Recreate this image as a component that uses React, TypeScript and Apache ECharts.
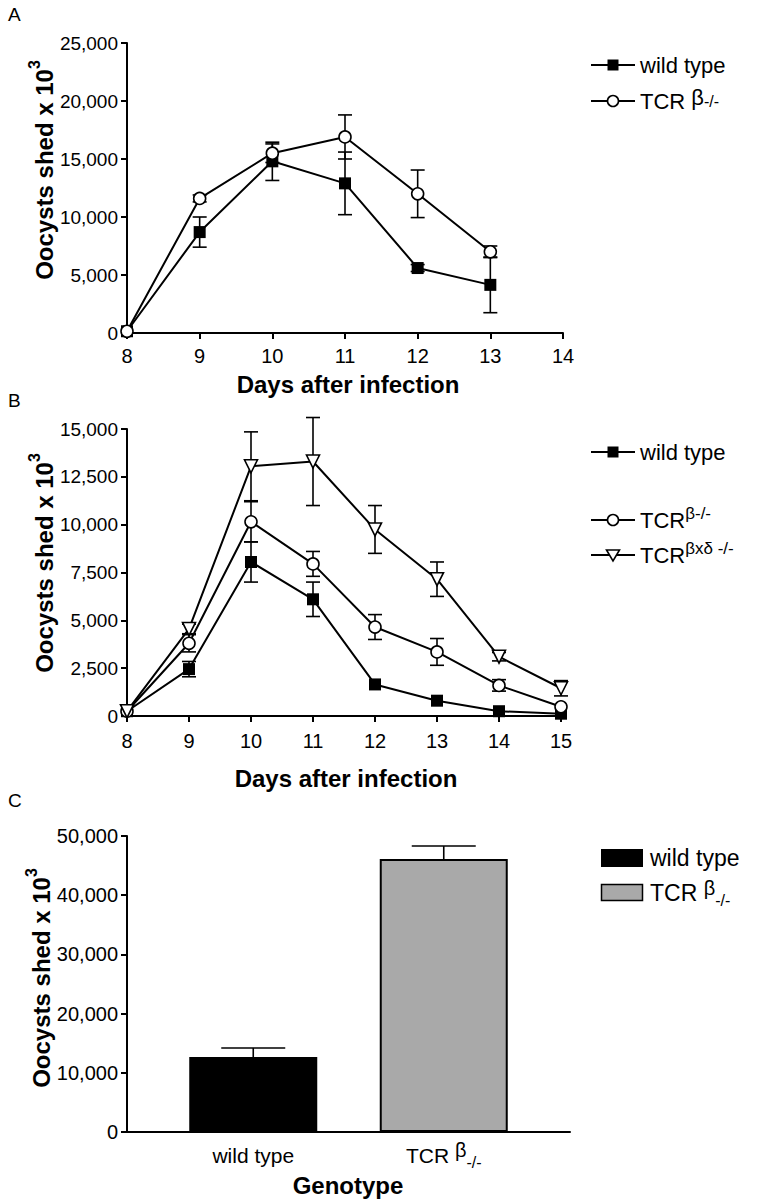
import React, { useEffect, useRef } from "react";
import * as echarts from "echarts";

// Panel A
const daysA = [8, 9, 10, 11, 12, 13];
const wildA = [150, 8700, 14800, 12900, 5600, 4150];
const wildAErr = [0, 1300, 1650, 2700, 300, 2400];
const tcrA = [150, 11600, 15500, 16900, 12000, 7000];
const tcrAErr = [0, 300, 800, 1900, 2050, 500];

// Panel B
const daysB = [8, 9, 10, 11, 12, 13, 14, 15];
const wildB = [250, 2450, 8050, 6100, 1650, 800, 250, 120];
const wildBErr = [0, 400, 1050, 900, 0, 0, 0, 0];
const tcrB = [250, 3800, 10150, 7950, 4650, 3350, 1600, 480];
const tcrBErr = [0, 450, 1050, 650, 650, 700, 300, 0];
const triB = [250, 4550, 13050, 13300, 9750, 7150, 3100, 1450];
const triBErr = [0, 250, 1800, 2300, 1250, 900, 220, 400];

// Panel C
const genotypes = ["wild type", "TCR β-/-"];
const totals = [12650, 46100];
const totalsErr = [1550, 2200];

const FONT = "'Liberation Sans', Arial, Helvetica, sans-serif";
const fmt = (v: number) => v.toLocaleString("en-US");

const pts = (xs: number[], ys: number[]) => xs.map((x, i) => [x, ys[i]]);
const errPts = (xs: number[], ys: number[], es: number[]) => xs.map((x, i) => [x, ys[i], es[i]]);

const blk = "#000";

function errRender(capHalf: number, upOnly: boolean) {
  return (params: any, api: any) => {
    const x = api.value(0);
    const y = api.value(1);
    const e = api.value(2);
    if (!e) return null;
    const top = api.coord([x, y + e]);
    const bot = upOnly ? api.coord([x, y]) : api.coord([x, y - e]);
    const st = { stroke: blk, lineWidth: 1.6 };
    const children: any[] = [
      { type: "line", shape: { x1: top[0], y1: top[1], x2: bot[0], y2: bot[1] }, style: st },
      { type: "line", shape: { x1: top[0] - capHalf, y1: top[1], x2: top[0] + capHalf, y2: top[1] }, style: st },
    ];
    if (!upOnly) {
      children.push({ type: "line", shape: { x1: bot[0] - capHalf, y1: bot[1], x2: bot[0] + capHalf, y2: bot[1] }, style: st });
    }
    return { type: "group", children };
  };
}

const axisLine = { show: true, onZero: false, lineStyle: { color: blk, width: 2 } };
const axisTick = { show: true, inside: false, length: 6, lineStyle: { color: blk, width: 2 } };

function valueX(gi: number, min: number, max: number, margin: number) {
  return {
    type: "value", gridIndex: gi, min, max, interval: 1,
    axisLine, axisTick, splitLine: { show: false },
    axisLabel: { color: blk, fontSize: 20, fontFamily: FONT, margin },
  };
}
function valueY(gi: number, max: number, interval: number, fs: number, show = true) {
  return {
    type: "value", gridIndex: gi, min: 0, max, interval,
    axisLine: { ...axisLine, show },
    axisTick: { ...axisTick, show },
    splitLine: { show: false },
    axisLabel: { show, color: blk, fontSize: fs, fontFamily: FONT, margin: 9, formatter: fmt },
  };
}

const lineSeries = (name: string, xi: number, data: number[][], kind: string) => {
  const base: any = {
    name, type: "line", xAxisIndex: xi, yAxisIndex: xi, data, z: 5,
    lineStyle: { color: blk, width: 2 },
    symbolKeepAspect: true,
  };
  if (kind === "square") {
    base.symbol = "rect"; base.symbolSize = 12; base.itemStyle = { color: blk, borderColor: blk, borderWidth: 0 };
  } else if (kind === "circle") {
    base.symbol = "circle"; base.symbolSize = 12; base.itemStyle = { color: "#fff", borderColor: blk, borderWidth: 1.6 };
  } else {
    base.symbol = "triangle"; base.symbolRotate = 180; base.symbolSize = 13; base.itemStyle = { color: "#fff", borderColor: blk, borderWidth: 1.6 };
  }
  return base;
};

const errSeries = (xi: number, data: number[][], capHalf: number, upOnly = false) => ({
  type: "custom", xAxisIndex: xi, yAxisIndex: xi, data, z: 4,
  encode: { x: 0, y: 1 },
  renderItem: errRender(capHalf, upOnly),
});

const supRich = {
  n: { fontSize: 22, fontFamily: FONT, color: blk, lineHeight: 30, verticalAlign: "middle" },
  b: { fontSize: 20, fontFamily: FONT, color: blk, lineHeight: 22, verticalAlign: "top" },
  s: { fontSize: 17, fontFamily: FONT, color: blk, lineHeight: 22, verticalAlign: "top" },
  sl: { fontSize: 16, fontFamily: FONT, color: blk, lineHeight: 24, verticalAlign: "bottom" },
  sm: { fontSize: 16, fontFamily: FONT, color: blk, lineHeight: 30, verticalAlign: "middle" },
  bm: { fontSize: 22, fontFamily: FONT, color: blk, lineHeight: 25, verticalAlign: "top" },
};

const yTitleRich = {
  m: { fontSize: 24, fontWeight: "bold", fontFamily: FONT, color: blk, lineHeight: 30, verticalAlign: "bottom" },
  p: { fontSize: 16, fontWeight: "bold", fontFamily: FONT, color: blk, lineHeight: 16, verticalAlign: "top" },
};

function yTitle(x: number, y: number) {
  return {
    type: "text", x, y, rotation: Math.PI / 2,
    style: { text: "{m|Oocysts shed x 10}{p|3}", rich: yTitleRich, align: "center", verticalAlign: "middle" },
  };
}
function xTitle(text: string, x: number, y: number) {
  return {
    type: "text", x, y,
    style: { text, fontSize: 24, fontWeight: "bold", fontFamily: FONT, fill: blk, align: "center", verticalAlign: "middle" },
  };
}
function panelLabel(text: string, x: number, y: number) {
  return { type: "text", x, y, style: { text, fontSize: 19, fontFamily: FONT, fill: blk, verticalAlign: "middle" } };
}

function legendRow(y: number, kind: string, text: string, rich = false) {
  const els: any[] = [
    { type: "line", shape: { x1: 591, y1: y, x2: 635, y2: y }, style: { stroke: blk, lineWidth: 2 } },
  ];
  if (kind === "square") {
    els.push({ type: "rect", shape: { x: 607.5, y: y - 5.5, width: 11, height: 11 }, style: { fill: blk } });
  } else if (kind === "circle") {
    els.push({ type: "circle", shape: { cx: 613, cy: y, r: 5.5 }, style: { fill: "#fff", stroke: blk, lineWidth: 1.6 } });
  } else {
    els.push({ type: "polygon", shape: { points: [[606.5, y - 5], [619.5, y - 5], [613, y + 6]] }, style: { fill: "#fff", stroke: blk, lineWidth: 1.6 } });
  }
  els.push({
    type: "text", x: 640, y,
    style: rich
      ? { text, rich: supRich, verticalAlign: "middle" }
      : { text, fontSize: 22, fontFamily: FONT, fill: blk, verticalAlign: "middle" },
  });
  return els;
}

export default function App() {
  const ref = useRef<HTMLDivElement>(null);
  useEffect(() => {
    document.body.style.margin = "0";
    const chart = echarts.init(ref.current!, null, { renderer: "svg" });
    const option: any = {
      animation: false,
      backgroundColor: "#fff",
      grid: [
        { left: 127, top: 43, width: 436, height: 290 },
        { left: 127, top: 429, width: 434, height: 287 },
        { left: 127, top: 836, width: 443, height: 296 },
        { left: 158, top: 836, width: 381, height: 296 },
      ],
      xAxis: [
        valueX(0, 8, 14, 13),
        valueX(1, 8, 15, 15),
        {
          type: "value", gridIndex: 2, min: 0, max: 1,
          axisLine, axisTick: { show: false }, axisLabel: { show: false }, splitLine: { show: false },
        },
        {
          type: "category", gridIndex: 3, data: genotypes,
          axisLine: { show: false }, axisTick: { show: false }, splitLine: { show: false },
          axisLabel: {
            interval: 0, hideOverlap: false,
            color: blk, fontSize: 21, fontFamily: FONT, margin: 8,
            formatter: (v: string) => v.startsWith("TCR") ? "{n|TCR }{b|β}{sl|-/-}" : "{n|" + v + "}",
            rich: {
              n: { fontSize: 21, fontFamily: FONT, color: blk, lineHeight: 30, verticalAlign: "middle" },
              b: { fontSize: 20, fontFamily: FONT, color: blk, lineHeight: 20, verticalAlign: "top" },
              sl: { fontSize: 16, fontFamily: FONT, color: blk, lineHeight: 22, verticalAlign: "bottom" },
            },
          },
        },
      ],
      yAxis: [
        valueY(0, 25000, 5000, 19),
        valueY(1, 15000, 2500, 19),
        valueY(2, 50000, 10000, 20),
        valueY(3, 50000, 10000, 20, false),
      ],
      series: [
        errSeries(0, errPts(daysA, wildA, wildAErr), 7),
        errSeries(0, errPts(daysA, tcrA, tcrAErr), 7),
        lineSeries("wild type", 0, pts(daysA, wildA), "square"),
        lineSeries("TCR β-/-", 0, pts(daysA, tcrA), "circle"),

        errSeries(1, errPts(daysB, wildB, wildBErr), 7),
        errSeries(1, errPts(daysB, tcrB, tcrBErr), 7),
        errSeries(1, errPts(daysB, triB, triBErr), 7),
        lineSeries("wild type", 1, pts(daysB, wildB), "square"),
        lineSeries("TCR β-/-", 1, pts(daysB, tcrB), "circle"),
        lineSeries("TCR βxδ -/-", 1, pts(daysB, triB), "triangle"),

        {
          type: "bar", xAxisIndex: 3, yAxisIndex: 3, barWidth: 128, z: 3,
          data: totals.map((v, i) => ({
            value: v,
            itemStyle: i === 0
              ? { color: "#000", borderColor: "#000", borderWidth: 1.5 }
              : { color: "#a9a9a9", borderColor: "#000", borderWidth: 2 },
          })),
        },
        {
          type: "custom", xAxisIndex: 3, yAxisIndex: 3, z: 4,
          data: totals.map((v, i) => [i, v, totalsErr[i]]),
          encode: { x: 0, y: 1 },
          renderItem: errRender(32, true),
        },
      ],
      graphic: [
        panelLabel("A", 8, 14),
        panelLabel("B", 8, 400),
        panelLabel("C", 8, 800),
        yTitle(41, 170),
        yTitle(41, 563),
        yTitle(38, 978),
        xTitle("Days after infection", 348, 384),
        xTitle("Days after infection", 346, 778),
        xTitle("Genotype", 348, 1185),
        ...legendRow(65, "square", "wild type"),
        ...legendRow(101, "circle", "{n|TCR }{bm|β}{sm|-/-}", true),
        ...legendRow(452, "square", "wild type"),
        ...legendRow(520, "circle", "{n|TCR}{s|β-/-}", true),
        ...legendRow(555, "triangle", "{n|TCR}{s|βxδ -/-}", true),
        { type: "rect", shape: { x: 601, y: 849, width: 42, height: 18 }, style: { fill: "#000" } },
        { type: "text", x: 650, y: 858, style: { text: "wild type", fontSize: 23, fontFamily: FONT, fill: blk, verticalAlign: "middle" } },
        { type: "rect", shape: { x: 601.5, y: 884.5, width: 41, height: 16 }, style: { fill: "#a9a9a9", stroke: "#000", lineWidth: 1.5 } },
        { type: "text", x: 650, y: 893, style: { text: "{n|TCR }{b|β}{sl|-/-}", rich: { ...supRich, n: { ...supRich.n, fontSize: 23 } }, verticalAlign: "middle" } },
      ],
    };
    chart.setOption(option);
    return () => chart.dispose();
  }, []);
  return <div ref={ref} style={{ width: 758, height: 1199 }} />;
}
